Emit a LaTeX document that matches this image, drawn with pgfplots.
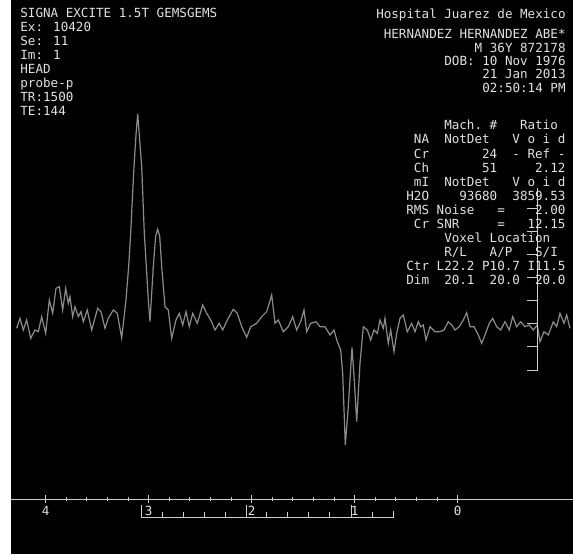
\documentclass[border=0pt]{standalone}
\usepackage{pgfplots}
\pgfplotsset{compat=1.18}
\usepackage{pgfplotstable}
\usepackage{fontspec}
\setmainfont{DejaVu Sans Mono}
\definecolor{txt}{RGB}{225,225,225}
\definecolor{spec}{RGB}{140,140,140}
\definecolor{ruler}{RGB}{205,205,205}
\newcommand{\mf}{\fontsize{6.29pt}{7pt}\selectfont}

% spectrum: px = horizontal pixel, py = vertical pixel (from top)
\pgfplotstableread{
px py
16.7 328.3
20 318.3
23.3 330
26.7 320
30.7 338.3
35 330
38.3 331.7
41.7 316.7
45.7 333.3
49.3 300
52.7 313.3
56 288.3
59.3 286.7
62.7 310
65.7 288.3
68.3 303.3
70 296.7
72.7 316.7
75 306.7
78.3 316.7
81 311.7
83.3 321.7
87.3 310
91.7 330
97.7 308.3
101 311.7
105 328.3
108.3 318.3
113.3 310
117.3 313.3
121.7 338
126 300
128.7 266
130.7 233
132.3 200
134 166.7
136 135
137.7 114
139.3 135
141.7 166.7
144.3 233
146.3 266
148.3 300
150 321.7
153.3 266.7
155.7 236
157.7 229.3
159.7 236
161.7 266.7
165 306.7
168.3 310
171.7 338.3
176 320
179.3 313.3
182.7 325
186 311.7
189.3 326.7
192.7 313.3
197.3 323.3
202.7 305
206.7 313.3
210.7 320
215 330
219.3 323.3
222.7 330
227.3 320
233.3 309.3
237.3 313.3
241.7 326.7
246.7 337.3
250.7 326.7
256.7 323.3
261.7 316.7
266.7 311.7
271.7 295
275 323.3
278.3 320
283.3 331.7
288.3 326.7
292.7 316.7
296.7 330
300.7 321.7
304 310
306.7 331.7
310.7 323.3
316 321.7
320 326.7
325 326.7
330 335
334 330
337.3 341.7
340.7 350
342.7 373.3
345.3 445
348.3 406.7
352 347.5
354.3 380
356.7 421.7
360 363.3
363.3 326.7
367.3 330
370.7 340
374 330
377.3 333.3
380 320
383.3 328.3
385 318.3
388.3 343.3
390.7 330
394 351.7
396.7 333.3
400 318.3
403.3 315
407.3 331.7
411.7 323.3
415 331.7
418.3 321.7
420.7 326.7
423.3 325
426 340
430 326.7
435 331.7
440 331.7
444 330
448.3 321.7
451.7 325
455 330
459.3 326.7
463.3 320
466.7 312.7
470 326.7
474 326.7
478.3 335
481.7 343.3
485 335
489.3 323.3
492.7 318.3
496.7 326.7
500.7 330
505 321.7
509.3 330
512.7 316.7
516.7 326.7
520.7 321.7
525 326.7
529.3 325
533.3 330
537.3 325
540 341.7
544 331.7
548.3 335
553.3 321.7
556.7 326.7
560 313.3
564 323.3
566.7 315
570 328.3
}\spec

\begin{document}
\begin{tikzpicture}
\fill[black] (0,0) rectangle (281pt,277pt);
\begin{axis}[
  at={(0,27.5pt)}, anchor=south west,
  scale only axis, width=281pt, height=249.5pt,
  xmin=-1.1194, xmax=4.3369, x dir=reverse,
  ymin=55, ymax=554,
  axis x line*=bottom, axis y line=none,
  x axis line style={ruler, line width=0.5pt},
  xtick={0,1,2,3,4}, xticklabels={0,1,2,3,4},
  minor x tick num=4, tick align=center,
  major tick length=4pt, minor tick length=1.7pt,
  tick style={ruler, line width=0.5pt},
  xticklabel style={text=txt, font=\mf, yshift=2pt},
  /pgf/number format/assume math mode=true,
  clip=false]
\addplot[spec, line width=0.6pt] table[x expr={(457.7-\thisrow{px})/103}, y expr={554-\thisrow{py}}] {\spec};
\end{axis}
\begin{scope}[shift={(-5.5pt,277pt)}, x=0.5pt, y=-0.5pt]
  % bracket under the ruler
  \draw[ruler, line width=0.5pt] (141.7,505) -- (141.7,517) -- (393,517) -- (393,511);
  \foreach \xx in {246,351.7} \draw[ruler, line width=0.5pt] (\xx,505) -- (\xx,517);
  \foreach \xx in {162.6,183.4,204.2,225.1,266.9,287.7,308.6,329.4,372.6}
    \draw[ruler, line width=0.5pt] (\xx,511.5) -- (\xx,517);
  % vertical scale bar
  \draw[ruler, line width=0.5pt] (537.5,188) -- (537.5,370) -- (527,370);
  \foreach \yy in {208,231,254,277,300.7,323.3,346.7}
    \draw[ruler, line width=0.5pt] (527,\yy) -- (537.5,\yy);
  % left text block
  \begin{scope}[every node/.style={text=txt, font=\mf, inner sep=0pt, anchor=base west}]
    \node at (20,17.9) {SIGNA EXCITE 1.5T GEMSGEMS};
    \node at (20,31.8) {Ex: 10420};
    \node at (20,45.7) {Se: 11};
    \node at (20,59.6) {Im: 1};
    \node at (20,73.5) {HEAD};
    \node at (20,87.4) {probe-p};
    \node at (20,101.3) {TR:1500};
    \node at (20,115.2) {TE:144};
  \end{scope}
  % right text block
  \begin{scope}[every node/.style={text=txt, font=\mf, inner sep=0pt, anchor=base east}]
    \node at (566,18.6) {Hospital Juarez de Mexico};
    \node at (566,38.9) {HERNANDEZ HERNANDEZ ABE*};
    \node at (566,52.2) {M 36Y 872178};
    \node at (566,65.5) {DOB: 10 Nov 1976};
    \node at (566,78.8) {21 Jan 2013};
    \node at (566,92.1) {02:50:14 PM};
  \end{scope}
  \begin{scope}[every node/.style={text=txt, font=\mf, inner sep=0pt, anchor=base west}]
    \node at (406,129.9) {~~~~~Mach.~\#~~~Ratio~};
    \node at (406,143.95) {~NA~~NotDet~~~V~o~i~d};
    \node at (406,158.0) {~Cr~~~~~~~24~~-~Ref~-};
    \node at (406,172.05) {~Ch~~~~~~~51~~~~~2.12};
    \node at (406,186.1) {~mI~~NotDet~~~V~o~i~d};
    \node at (406,200.15) {H2O~~~~93680~~3859.53};
    \node at (406,214.2) {RMS~Noise~~~=~~~~2.00};
    \node at (406,228.25) {~Cr~SNR~~~~~=~~~12.15};
    \node at (406,242.3) {~~~~~Voxel~Location~~};
    \node at (406,256.35) {~~~~~R/L~~~A/P~~~S/I~};
    \node at (406,270.4) {Ctr~L22.2~P10.7~I11.5};
    \node at (406,284.45) {Dim~~20.1~~20.0~~20.0};
  \end{scope}
\end{scope}
\pgfresetboundingbox
\path (-5.5pt,0) rectangle (281pt,277pt);
\end{tikzpicture}
\end{document}
